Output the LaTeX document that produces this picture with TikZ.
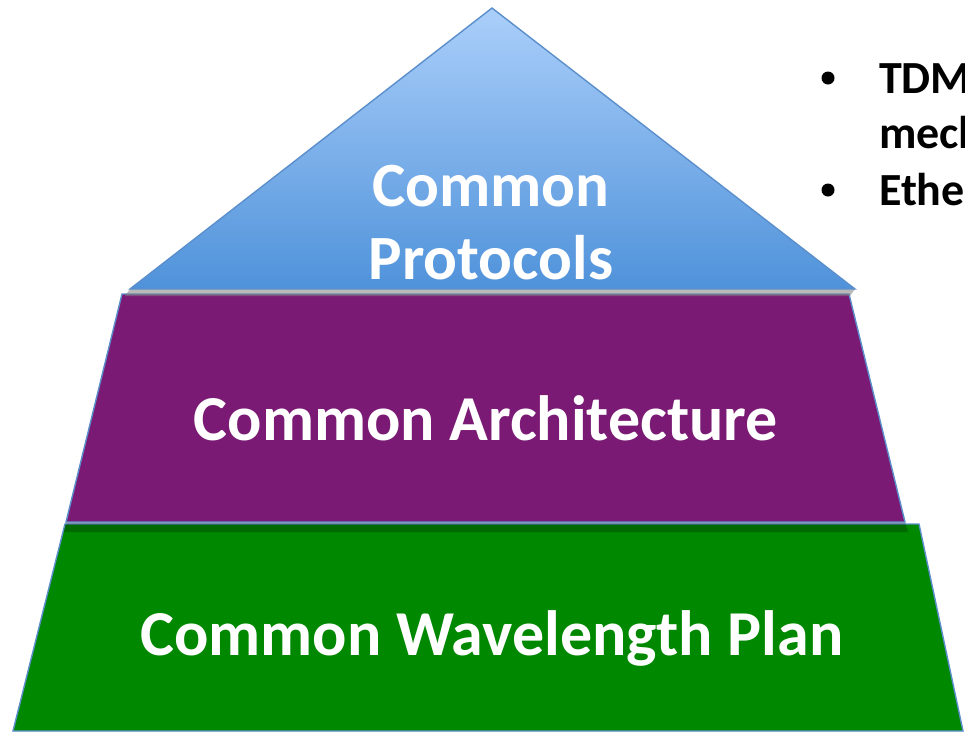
\documentclass[tikz,border=0pt]{standalone}
\usepackage{fontspec}
\setmainfont{Carlito}
\begin{document}
\begin{tikzpicture}[x=1pt,y=-1pt,
  edge/.style={draw=outlineblue,line width=1.4pt,line join=miter},
  layertext/.style={text=white,font=\bfseries\fontsize{64}{73}\selectfont,anchor=base,inner sep=0pt},
  toptext/.style={layertext,font=\bfseries\fontsize{63}{73}\selectfont},
  bullettext/.style={text=black,font=\bfseries\fontsize{46}{55}\selectfont,anchor=base west,inner sep=0pt}]
\definecolor{outlineblue}{HTML}{5B8FCB}
\definecolor{skytop}{HTML}{ABCFFA}
\definecolor{skybottom}{HTML}{4F92DA}
\definecolor{plum}{HTML}{7A1A74}
\definecolor{leaf}{HTML}{008800}
\useasboundingbox (0,0) rectangle (965,732);
\clip (0,0) rectangle (965,732);

% bottom layer
\path[edge,fill=leaf] (65,524) -- (919,524) -- (963,731) -- (13,731) -- cycle;
% shadow cast by the middle layer
\fill[black,opacity=0.22] (66,522) -- (905,522) -- (908,532) -- (64,532) -- cycle;
% middle layer
\path[edge,fill=plum] (122,294) -- (849,294) -- (905,522) -- (66,522) -- cycle;
% shadow cast by the top
\fill[gray,opacity=0.55] (130,289) -- (855,289) -- (850,296) -- (125,296) -- cycle;
% top triangle
\shade[top color=skytop,bottom color=skybottom] (492,8) -- (855,289) -- (130,289) -- cycle;
\draw[edge] (492,8) -- (855,289) -- (130,289) -- cycle;

% layer labels
\node[toptext] (protoA) at (491,206) {Common};
\node[toptext] (protoB) at (491,279) {Protocols};
\node[layertext] (arch) at (486,440) {Common Architecture};
\node[layertext] (wave) at (492,655) {Common Wavelength Plan};

% bullet list beside the pyramid
\fill (828,78) circle (6.5) coordinate (dotA);
\fill (828,190) circle (6.5) coordinate (dotB);
\node[bullettext] (lineA) at (879,93) {TDM};
\node[bullettext] (lineB) at (879,148) {mech};
\node[bullettext] (lineC) at (879,205) {Ethe};
\end{tikzpicture}
\end{document}
